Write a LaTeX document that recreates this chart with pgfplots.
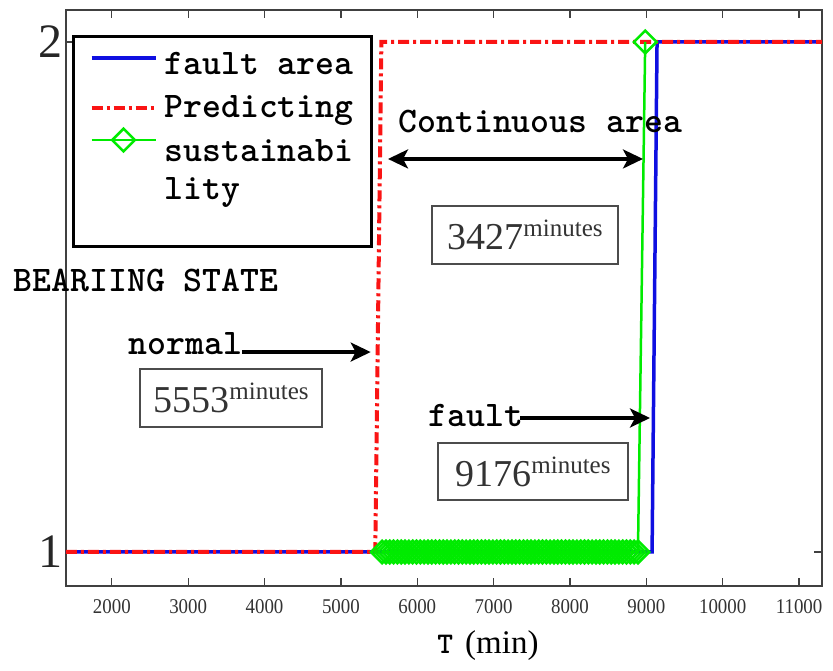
\documentclass[border=0pt]{standalone}
\usepackage{pgfplots}
\pgfplotsset{compat=1.18}
\usepackage{fontspec}
\setmainfont{Liberation Serif}
\newfontfamily\tickf{Liberation Serif}[FakeStretch=0.9]
\usetikzlibrary{arrows.meta}
\definecolor{fblue}{RGB}{15,15,225}
\definecolor{fred}{RGB}{250,20,20}
\definecolor{fgreen}{RGB}{0,235,0}
\newcommand{\monofont}{\ttfamily\bfseries\fontsize{36}{38}\selectfont}
\pgfplotsset{
  normleg/.style={legend image code/.code={\path[draw=none,fill=none] (0pt,0pt) -- (15pt,0pt); \draw[mark repeat=2,mark phase=2,##1] plot coordinates {(15pt,0pt) (47pt,0pt) (79pt,0pt)};}},
  greenleg/.style={legend image code/.code={\path[draw=none,fill=none] (0pt,0pt) -- (15pt,0pt); \draw[overlay,mark repeat=2,mark phase=2,##1] plot coordinates {(15pt,30pt) (47pt,30pt) (79pt,30pt)};}},
}
\tikzset{arr/.style={line width=3.2pt, -{Stealth[length=20pt,width=19pt,inset=5pt]}},
         darr/.style={line width=3.2pt, {Stealth[length=20pt,width=19pt,inset=5pt]}-{Stealth[length=20pt,width=19pt,inset=5pt]}}}
\begin{document}
\begin{tikzpicture}
\useasboundingbox (-66pt,-85pt) rectangle (767pt,586pt);
\begin{axis}[
  at={(0pt,0pt)}, anchor=south west,
  width=756pt, height=576pt, scale only axis,
  xmin=1400, xmax=11300, ymin=0.9333, ymax=2.0627,
  xtick={2000,3000,...,11000},
  ytick={1,2},
  tick align=inside,
  major tick length=8pt,
  axis line style={draw=black!75, line width=1.2pt},
  every tick/.style={black!75, line width=1.2pt},
  /pgf/number format/assume math mode=true,
  /pgf/number format/1000 sep={},
  scaled x ticks=false,
  x tick label style={font=\tickf\fontsize{21}{21}\selectfont, text=black!80, yshift=-10pt},
  y tick label style={font=\fontsize{48}{48}\selectfont, text=black!85},
  clip=false,
  legend style={at={(rel axis cs:0.008,0.957)}, anchor=north west, draw=black, line width=3pt,
    font=\monofont, align=left, row sep=16pt},
  legend cell align=left,
  normleg,
]
\addplot[fblue, line width=3.5pt] coordinates {(1400,1) (9075,1) (9140,2) (11300,2)};
\addlegendentry{\hspace{5pt}\rule{0pt}{34pt}fault area}
\addplot[fred, line width=4pt, dash pattern=on 11pt off 4pt on 3pt off 4pt] coordinates {(1400,1) (5450,1) (5530,2) (11300,2)};
\addlegendentry{\hspace{5pt}Predicting\hspace{13pt}}
\addplot[fgreen, line width=2.5pt, mark=square, mark size=8pt, mark options={rotate=45, solid}, greenleg] coordinates {
(5540,1) (5590,1) (5640,1) (5690,1) (5740,1) (5790,1) (5840,1) (5890,1) (5940,1) (5990,1)
(6040,1) (6090,1) (6140,1) (6190,1) (6240,1) (6290,1) (6340,1) (6390,1) (6440,1) (6490,1)
(6540,1) (6590,1) (6640,1) (6690,1) (6740,1) (6790,1) (6840,1) (6890,1) (6940,1) (6990,1)
(7040,1) (7090,1) (7140,1) (7190,1) (7240,1) (7290,1) (7340,1) (7390,1) (7440,1) (7490,1)
(7540,1) (7590,1) (7640,1) (7690,1) (7740,1) (7790,1) (7840,1) (7890,1) (7940,1) (7990,1)
(8040,1) (8090,1) (8140,1) (8190,1) (8240,1) (8290,1) (8340,1) (8390,1) (8440,1) (8490,1)
(8540,1) (8590,1) (8640,1) (8690,1) (8740,1) (8790,1) (8840,1) (8890,1) (8985,2)};
\addlegendentry{\hspace{5pt}sustainabi\\\hspace{5pt}lity}
\addlegendimage{empty legend}
\addlegendentry{\rule{0pt}{20pt}}

\node[font=\monofont, anchor=center] at (axis cs:2448,1.5333) {BEARIING STATE};
\node[font=\monofont, anchor=base west] at (axis cs:2173,1.3863) {normal};
\draw[arr] (axis cs:3705,1.392) -- (axis cs:5390,1.392);
\node[draw=black!70, line width=1.8pt, minimum width=182pt, minimum height=58pt, text=black!80, font=\fontsize{38}{38}\selectfont] at (axis cs:3561,1.302) {5553\raisebox{13pt}{\fontsize{25}{25}\selectfont minutes}};

\node[font=\monofont, anchor=base west] at (axis cs:5708,1.8216) {Continuous area};
\draw[darr] (axis cs:5617,1.7706) -- (axis cs:8956,1.7706);
\node[draw=black!70, line width=1.8pt, minimum width=186pt, minimum height=58pt, text=black!80, font=\fontsize{38}{38}\selectfont] at (axis cs:7411,1.6216) {3427\raisebox{13pt}{\fontsize{25}{25}\selectfont minutes}};

\node[font=\monofont, anchor=base west] at (axis cs:6101,1.247) {fault};
\draw[arr] (axis cs:7350,1.2627) -- (axis cs:9048,1.2627);
\node[draw=black!70, line width=1.8pt, minimum width=190pt, minimum height=57pt, text=black!80, font=\fontsize{38}{38}\selectfont] at (axis cs:7515,1.1578) {9176\raisebox{13pt}{\fontsize{25}{25}\selectfont minutes}};

\node[anchor=center] at (axis cs:6926,0.8157) {{\ttfamily\bfseries\fontsize{30}{30}\selectfont T}\hspace{12pt}{\fontsize{33}{33}\selectfont(min)}};
\end{axis}
\end{tikzpicture}
\end{document}
